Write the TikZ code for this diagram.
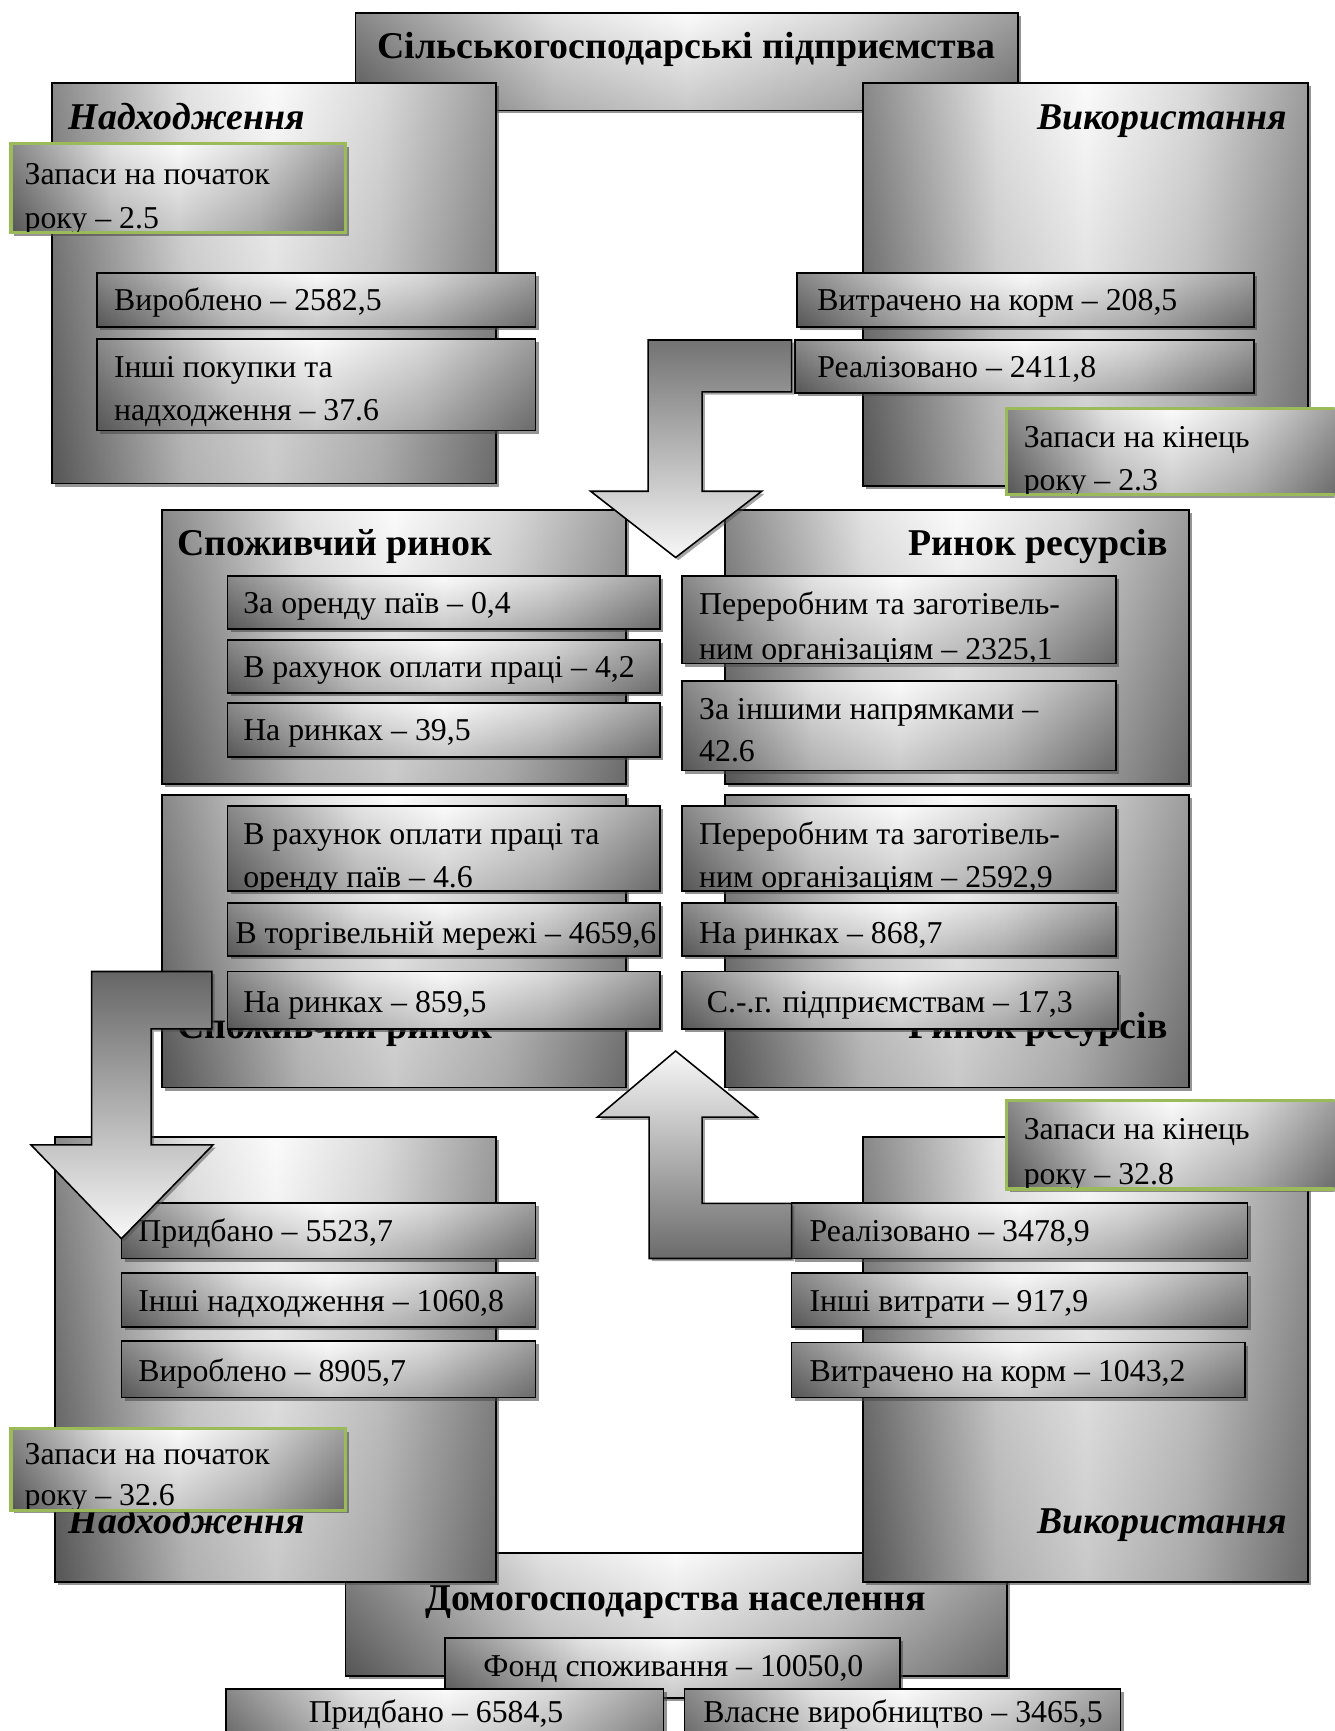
\documentclass[tikz,border=0pt]{standalone}
\usepackage{fontspec}
\setmainfont{Liberation Serif}
\usetikzlibrary{shadows}
\definecolor{grnc}{HTML}{9BBB59}
\pgfdeclarehorizontalshading{wgrad}{100bp}{color(0bp)=(black!58); color(25bp)=(black!58); color(40bp)=(black!14); color(50bp)=(black!2); color(62bp)=(black!18); color(75bp)=(black!48); color(100bp)=(black!48)}
\newcommand{\bx}[6][]{\node[gbox,#1,minimum width={(#5-#3)*0.02cm},minimum height={(#6-#4)*0.02cm}] (#2) at (#3,#4) {};}
\newcommand{\ct}[6][]{\begin{scope}\clip ([shift={(0.8pt,0.8pt)}]#2.south west) rectangle ([shift={(-0.8pt,-0.8pt)}]#2.north east);\node[txt,#1] (#3) at (#4,#5) {#6};\end{scope}}
\begin{document}
\begin{tikzpicture}[x=0.02cm, y=-0.02cm,
  gbx/.style={draw=black, line width=0.9pt, shade, shading=wgrad,
    path picture={\shade[top color=white, bottom color=black, fill opacity=0.2] (path picture bounding box.south west) rectangle (path picture bounding box.north east);},
    drop shadow={shadow xshift=1.6pt, shadow yshift=-1.6pt, fill=black!70, opacity=0.6}},
  gbox/.style={gbx, inner sep=0pt, outer sep=0pt, anchor=north west},
  grn/.style={draw=grnc, line width=1.6pt},
  arr/.style={draw=black, line width=0.8pt, line join=miter,
    drop shadow={shadow xshift=1.4pt, shadow yshift=-1.4pt, fill=black!70, opacity=0.5}},
  txt/.style={inner sep=0pt, anchor=base west, font=\fontsize{16.4}{20}\selectfont},
  ttl/.style={font=\fontsize{19.5}{23}\selectfont\bfseries},
  it/.style={font=\fontsize{19.5}{23}\selectfont\bfseries\itshape},
]
\useasboundingbox (0,0) rectangle (1209,1568);
\clip (0,0) rectangle (1209,1568);

% ---- top: agricultural enterprises
\bx{sg}{322}{12}{922}{100}
\ct[ttl,anchor=base]{sg}{sgT}{622}{53}{Сільськогосподарські підприємства}

\bx{nt}{47}{75}{449}{438}
\ct[it]{nt}{ntT}{62}{117}{Надходження}
\bx{vk}{782}{75}{1185}{440}
\ct[it,anchor=base east]{vk}{vkT}{1166}{117}{Використання}

\bx{v1}{88}{247}{485}{296}
\ct{v1}{v1t}{103}{281}{Вироблено – 2582,5}
\bx{ip}{88}{307}{485}{390}
\ct{ip}{ipa}{103}{342}{Інші покупки та}
\ct{ip}{ipb}{103}{381}{надходження – 37.6}
\bx[grn]{z1}{10}{130}{313}{211}
\ct{z1}{z1a}{22}{167}{Запаси на початок}
\ct{z1}{z1b}{22}{207}{року – 2.5}

\bx{vt}{722}{247}{1136}{296}
\ct{vt}{vtt}{740}{281}{Витрачено на корм – 208,5}
\bx{rl}{720}{308}{1136}{356}
\ct{rl}{rlt}{740}{342}{Реалізовано – 2411,8}
\bx[grn]{z2}{912}{370}{1211}{448}
\ct{z2}{z2a}{927}{405}{Запаси на кінець}
\ct{z2}{z2b}{927}{444}{року – 2.3}

% ---- markets, upper
\bx{sp1}{147}{462}{567}{710}
\ct[ttl]{sp1}{sp1T}{160}{503}{Споживчий ринок}
\bx{rr1}{657}{462}{1077}{710}
\ct[ttl,anchor=base east]{rr1}{rr1T}{1058}{503}{Ринок ресурсів}

% arrow down from enterprises
\draw[arr, top color=black!55, bottom color=black!3]
  (587,308) -- (717,308) -- (717,355) -- (636,355) -- (636,445) -- (690,445)
  -- (612,505) -- (535,445) -- (587,445) -- cycle;

\bx{a1}{206}{522}{598}{570}
\ct{a1}{a1t}{220}{556}{За оренду паїв – 0,4}
\bx{a2}{206}{580}{598}{628}
\ct{a2}{a2t}{220}{614}{В рахунок оплати праці – 4,2}
\bx{a3}{206}{637}{598}{686}
\ct{a3}{a3t}{220}{671}{На ринках – 39,5}
\bx{b1}{618}{522}{1011}{601}
\ct{b1}{b1a}{633}{557}{Переробним та заготівель-}
\ct{b1}{b1b}{633}{597}{ним організаціям – 2325,1}
\bx{b2}{618}{617}{1011}{698}
\ct{b2}{b2a}{633}{652}{За іншими напрямками –}
\ct{b2}{b2b}{633}{690}{42.6}

% ---- markets, lower
\bx{sp2}{147}{720}{567}{985}
\ct[ttl]{sp2}{sp2T}{160}{941}{Споживчий ринок}
\bx{rr2}{657}{720}{1077}{985}
\ct[ttl,anchor=base east]{rr2}{rr2T}{1058}{941}{Ринок ресурсів}

\bx{c1}{206}{730}{598}{807}
\ct{c1}{c1a}{220}{765}{В рахунок оплати праці та}
\ct{c1}{c1b}{220}{804}{оренду паїв – 4.6}
\bx{c2}{206}{818}{598}{866}
\ct{c2}{c2t}{213}{855}{В торгівельній мережі – 4659,6}
\bx{c3}{206}{880}{598}{932}
\ct{c3}{c3t}{220}{917}{На ринках – 859,5}
\bx{d1}{618}{730}{1011}{807}
\ct{d1}{d1a}{633}{765}{Переробним та заготівель-}
\ct{d1}{d1b}{633}{804}{ним організаціям – 2592,9}
\bx{d2}{618}{818}{1011}{866}
\ct{d2}{d2t}{633}{855}{На ринках – 868,7}
\bx{d3}{618}{880}{1013}{932}
\ct{d3}{d3t}{640}{917}{С.-.г. підприємствам – 17,3}

% ---- households
\bx{dh}{313}{1407}{912}{1518}
\ct[ttl,anchor=base]{dh}{dhT}{612}{1459}{Домогосподарства населення}

\bx{n2}{50}{1030}{449}{1433}
\ct[it]{n2}{n2T}{62}{1389}{Надходження}
\bx{vk2}{782}{1030}{1185}{1433}
\ct[it,anchor=base east]{vk2}{vk2T}{1166}{1389}{Використання}

\bx{e1}{110}{1090}{485}{1140}
\ct{e1}{e1t}{125}{1125}{Придбано – 5523,7}
\bx{e2}{110}{1153}{485}{1202}
\ct{e2}{e2t}{125}{1188}{Інші надходження – 1060,8}
\bx{e3}{110}{1215}{485}{1266}
\ct{e3}{e3t}{125}{1251}{Вироблено – 8905,7}
\bx[grn]{z3}{10}{1294}{313}{1368}
\ct{z3}{z3a}{22}{1327}{Запаси на початок}
\ct{z3}{z3b}{22}{1364}{року – 32.6}

\bx{f1}{717}{1090}{1130}{1140}
\ct{f1}{f1t}{733}{1125}{Реалізовано – 3478,9}
\bx{f2}{717}{1153}{1130}{1202}
\ct{f2}{f2t}{733}{1188}{Інші витрати – 917,9}
\bx{f3}{717}{1216}{1128}{1266}
\ct{f3}{f3t}{733}{1251}{Витрачено на корм – 1043,2}
\bx[grn]{z4}{912}{997}{1211}{1077}
\ct{z4}{z4a}{927}{1032}{Запаси на кінець}
\ct{z4}{z4b}{927}{1073}{року – 32.8}

% arrows between markets and households
\draw[arr, top color=black!60, bottom color=black!3]
  (83,880) -- (192,880) -- (192,932) -- (137,932) -- (137,1037) -- (193,1037)
  -- (110,1122) -- (28,1037) -- (83,1037) -- cycle;
\draw[arr, top color=black!3, bottom color=black!58]
  (612,952) -- (686,1012) -- (636,1012) -- (636,1090) -- (717,1090) -- (717,1140)
  -- (588,1140) -- (588,1012) -- (541,1012) -- cycle;

\bx{fs}{403}{1484}{815}{1538}
\ct[anchor=base]{fs}{fst}{610}{1519}{Фонд споживання – 10050,0}
\bx{pr}{205}{1530}{601}{1600}
\ct[anchor=base]{pr}{prt}{395}{1560}{Придбано – 6584,5}
\bx{vv}{620}{1530}{1015}{1600}
\ct[anchor=base]{vv}{vvt}{818}{1560}{Власне виробництво – 3465,5}
\end{tikzpicture}
\end{document}
